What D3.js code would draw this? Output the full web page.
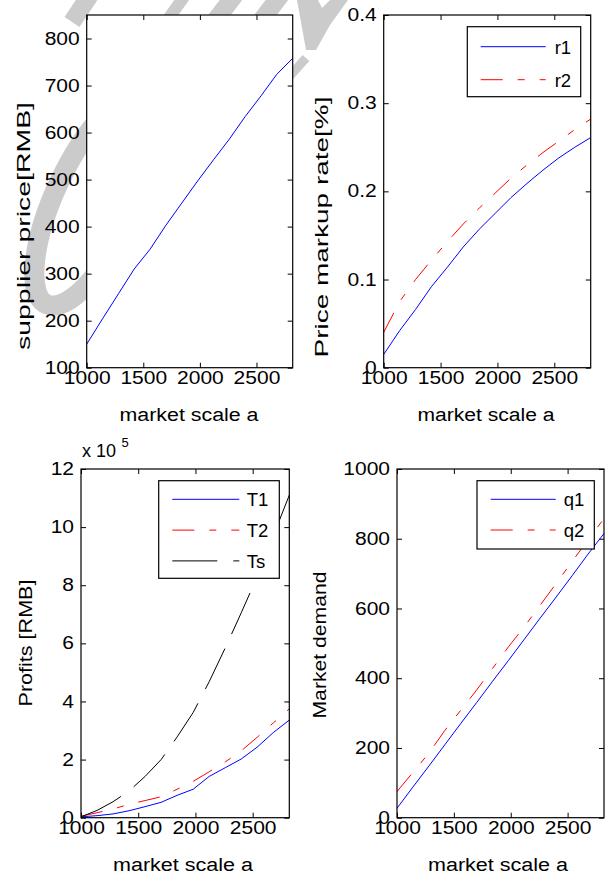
<!DOCTYPE html>
<html>
<head>
<style>
  body { margin: 0; background: #fff; }
  svg text { font-family: "Liberation Sans", Arial, Helvetica, sans-serif; }
</style>
</head>
<body>
<svg width="609" height="877"></svg>
<script src="https://d3js.org/d3.v7.min.js"></script>
<script>
// market scale a (x values shared by every panel)
const marketScale = [1000, 1140, 1280, 1420, 1560, 1700, 1840, 1980, 2120, 2260, 2400, 2540, 2680, 2820];

// supplier price [RMB]
const supplierPrice = [150, 204, 257, 310, 352, 403, 450, 497, 542, 586, 634, 678, 724, 758];

// price markup rate
const markupR1 = [0.015, 0.042, 0.066, 0.092, 0.114, 0.137, 0.157, 0.175, 0.193, 0.209, 0.224, 0.238, 0.250, 0.261];
const markupR2 = [0.040, 0.075, 0.100, 0.122, 0.143, 0.163, 0.181, 0.198, 0.215, 0.230, 0.244, 0.257, 0.270, 0.282];

// profits, x 10^5 RMB
const profitT1 = [0.03, 0.07, 0.13, 0.24, 0.38, 0.53, 0.77, 0.98, 1.42, 1.72, 2.02, 2.43, 2.93, 3.36];
const profitT2 = [0.05, 0.17, 0.30, 0.46, 0.59, 0.72, 0.98, 1.25, 1.58, 1.92, 2.30, 2.77, 3.26, 3.75];
const profitTs = [0.03, 0.25, 0.55, 0.92, 1.42, 2.00, 2.78, 3.62, 4.68, 5.84, 7.05, 8.30, 9.70, 11.10];

// market demand
const demandQ1 = [27, 88, 148, 209, 270, 330, 391, 451, 512, 573, 633, 694, 756, 815];
const demandQ2 = [75, 130, 185, 250, 308, 366, 428, 490, 548, 610, 672, 735, 797, 858];

// tick values
const xTicks = [1000, 1500, 2000, 2500];
const priceTicks = [100, 200, 300, 400, 500, 600, 700, 800];
const markupTicks = [0, 0.1, 0.2, 0.3, 0.4];
const profitTicks = [0, 2, 4, 6, 8, 10, 12];
const demandTicks = [0, 200, 400, 600, 800, 1000];

const svg = d3.select("svg");
const FONT = 18;
const LEGEND_FONT = 18.5;
const TICK_FONT = 17.5;
const TICK_STRETCH = 1.2;   // the figure's text is drawn wider than the font
const dashDot = "22,15,7,15";

// grey watermark behind the plots
const wm = svg.append("g")
  .attr("fill", "none")
  .attr("stroke", "#cbcbcb");
wm.append("ellipse")
  .attr("cx", 95).attr("cy", 200).attr("rx", 40).attr("ry", 115)
  .attr("transform", "rotate(25 95 200)")
  .attr("stroke-width", 20);
[["M72,22L92,-8", 18], ["M212,25L240,-12", 18], ["M258,25L286,-12", 18],
 ["M306,58L288,78", 9], ["M166,22L186,-6", 12]].forEach(function(s) {
  wm.append("path").attr("d", s[0]).attr("stroke-width", s[1]);
});
wm.append("path")
  .attr("d", "M297,0L318,0L322,8L330,0L348,0L330,25L316,50L306,50Z")
  .attr("fill", "#cbcbcb").attr("stroke", "none");

function drawPanel(p) {
  const x = d3.scaleLinear().domain([1000, 2820]).range([p.left, p.right]);
  const y = d3.scaleLinear().domain(p.yDomain).range([p.bottom, p.top]);
  const g = svg.append("g");

  g.append("rect")
    .attr("x", p.left).attr("y", p.top)
    .attr("width", p.right - p.left).attr("height", p.bottom - p.top)
    .attr("fill", "#fff");

  const fmt = p.fmt || d3.format("~g");
  const axes = [
    [d3.axisBottom(x).tickValues(xTicks).tickSize(-5).tickPadding(4).tickFormat(d3.format("d")), `translate(0,${p.bottom})`],
    [d3.axisTop(x).tickValues(xTicks).tickSize(-5).tickFormat(""), `translate(0,${p.top})`],
    [d3.axisLeft(y).tickValues(p.yTicks).tickSize(-5).tickPadding(7).tickFormat(fmt), `translate(${p.left},0)`],
    [d3.axisRight(y).tickValues(p.yTicks).tickSize(-5).tickFormat(""), `translate(${p.right},0)`]
  ];
  axes.forEach(function(a) {
    const ag = g.append("g").attr("transform", a[1]).call(a[0]);
    ag.attr("font-size", TICK_FONT).attr("font-family", null);
    ag.select(".domain").remove();
    ag.selectAll(".tick text").each(function() {
      const w = this.getComputedTextLength();
      if (w > 0) {
        d3.select(this).attr("textLength", w * TICK_STRETCH).attr("lengthAdjust", "spacingAndGlyphs");
      }
    });
  });

  const line = d3.line()
    .x(function(d, i) { return x(marketScale[i]); })
    .y(function(d) { return y(d); });

  p.series.forEach(function(s) {
    g.append("path")
      .datum(s.values)
      .attr("d", line)
      .attr("fill", "none")
      .attr("stroke", s.color)
      .attr("stroke-width", 1)
      .attr("stroke-dasharray", s.dash);
  });

  g.append("rect")
    .attr("x", p.left).attr("y", p.top)
    .attr("width", p.right - p.left).attr("height", p.bottom - p.top)
    .attr("fill", "none").attr("stroke", "#000").attr("stroke-width", 1.2);

  if (p.legend) {
    const L = p.legend;
    const lg = g.append("g");
    lg.append("rect")
      .attr("x", L.x).attr("y", L.y).attr("width", L.w).attr("height", L.h)
      .attr("fill", "#fff").attr("stroke", "#000").attr("stroke-width", 1.2);
    p.series.forEach(function(s, i) {
      const ly = L.y + L.first + i * L.step;
      lg.append("line")
        .attr("x1", L.x + L.pad).attr("x2", L.x + L.pad + L.len)
        .attr("y1", ly).attr("y2", ly)
        .attr("stroke", s.color).attr("stroke-width", 1)
        .attr("stroke-dasharray", s.dash);
      lg.append("text")
        .attr("x", L.x + L.pad + L.len + L.gap).attr("y", ly + 7)
        .attr("font-size", LEGEND_FONT)
        .text(s.name);
    });
  }

  // axis titles
  g.append("text")
    .attr("x", p.xLabel[0]).attr("y", p.xLabel[1])
    .attr("text-anchor", "middle").attr("font-size", FONT)
    .attr("textLength", p.xLabel[2]).attr("lengthAdjust", "spacingAndGlyphs")
    .text("market scale a");
  g.append("text")
    .attr("transform", `translate(${p.yLabel[0]},${p.yLabel[1]}) rotate(-90)`)
    .attr("text-anchor", "middle").attr("font-size", FONT)
    .attr("textLength", p.yLabel[2]).attr("lengthAdjust", "spacingAndGlyphs")
    .text(p.yTitle);
}

drawPanel({
  left: 86.7, right: 292.7, top: 15, bottom: 367.7,
  yDomain: [100, 850], yTicks: priceTicks,
  series: [{ name: "p", values: supplierPrice, color: "#0000ff", dash: null }],
  xLabel: [189, 420.5, 139],
  yLabel: [30, 226, 248], yTitle: "supplier price[RMB]"
});

drawPanel({
  left: 383.7, right: 590.7, top: 15, bottom: 367.7,
  yDomain: [0, 0.4], yTicks: markupTicks,
  series: [
    { name: "r1", values: markupR1, color: "#0000ff", dash: null },
    { name: "r2", values: markupR2, color: "#ff0000", dash: dashDot }
  ],
  legend: { x: 467.3, y: 26.7, w: 113.4, h: 70, first: 20, step: 33, pad: 13.4, len: 65, gap: 9 },
  xLabel: [486, 420.5, 137],
  yLabel: [328, 227, 261], yTitle: "Price markup rate[%]"
});

drawPanel({
  left: 81, right: 289.3, top: 469, bottom: 817.7,
  yDomain: [0, 12], yTicks: profitTicks,
  series: [
    { name: "T1", values: profitT1, color: "#0000ff", dash: null },
    { name: "T2", values: profitT2, color: "#ff0000", dash: dashDot },
    { name: "Ts", values: profitTs, color: "#000000", dash: "45,16" }
  ],
  legend: { x: 158.7, y: 480.7, w: 120.6, h: 97.6, first: 18.6, step: 30.8, pad: 13.6, len: 67, gap: 7.5 },
  xLabel: [183, 870.5, 140],
  yLabel: [31.5, 643, 127], yTitle: "Profits [RMB]"
});

// exponent of the profit axis
svg.append("text").attr("x", 82).attr("y", 457).attr("font-size", FONT).text("x 10");
svg.append("text").attr("x", 121.5).attr("y", 447).attr("font-size", 13).text("5");

drawPanel({
  left: 397, right: 604, top: 469, bottom: 817.7,
  yDomain: [0, 1000], yTicks: demandTicks,
  series: [
    { name: "q1", values: demandQ1, color: "#0000ff", dash: null },
    { name: "q2", values: demandQ2, color: "#ff0000", dash: dashDot }
  ],
  legend: { x: 477, y: 480.7, w: 117.3, h: 68.3, first: 18.6, step: 30.7, pad: 13.7, len: 65, gap: 8 },
  xLabel: [498, 870.5, 140],
  yLabel: [326, 645, 147], yTitle: "Market demand"
});
</script>
</body>
</html>
